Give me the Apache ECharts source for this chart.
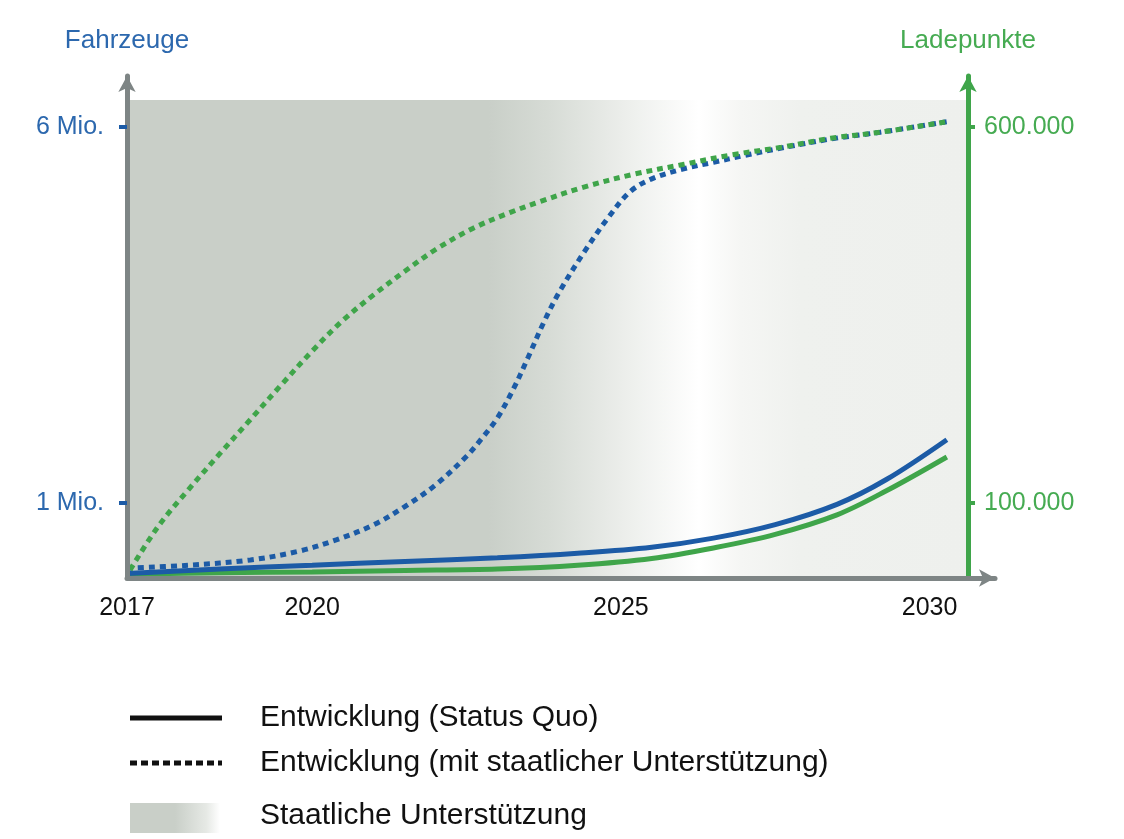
<!DOCTYPE html>
<html>
<head>
<meta charset="utf-8">
<script src="https://cdn.jsdelivr.net/npm/echarts@6/dist/echarts.min.js"></script>
<style>html,body{margin:0;padding:0;background:#fff}#c{width:1124px;height:839px}</style>
</head>
<body>
<div id="c"></div>
<script>
// ---- data ----
const xTickYears = [2017, 2020, 2025, 2030];
const leftTicks = [1, 6];            // Mio. Fahrzeuge
const rightTicks = [100000, 600000]; // Ladepunkte
const titleLeft = 'Fahrzeuge';
const titleRight = 'Ladepunkte';

// Fahrzeuge, Entwicklung mit staatlicher Unterstützung (Mio.)
const vehSupportYears  = [2017.0, 2018.0, 2019.0, 2019.8, 2020.4, 2021.0, 2021.5, 2022.0, 2022.5, 2022.75, 2023.0, 2023.25, 2023.5, 2023.75, 2024.0, 2024.4, 2024.8, 2025.15, 2025.5, 2026.0, 2026.5, 2027.0, 2027.6, 2028.4, 2029.2, 2030.28];
const vehSupportValues = [0.13, 0.17, 0.24, 0.36, 0.51, 0.71, 0.95, 1.24, 1.62, 1.86, 2.13, 2.50, 2.94, 3.40, 3.80, 4.33, 4.80, 5.14, 5.31, 5.44, 5.53, 5.62, 5.72, 5.84, 5.93, 6.07];

// Ladepunkte, Entwicklung mit staatlicher Unterstützung
const chargeSupportYears  = [2017.0, 2017.5, 2018.0, 2018.5, 2019.0, 2019.5, 2020.0, 2020.5, 2021.0, 2021.5, 2022.0, 2022.6, 2023.2, 2023.7, 2024.4, 2025.2, 2026.0, 2026.8, 2027.6, 2028.4, 2029.2, 2030.28];
const chargeSupportValues = [4000, 68000, 118000, 165000, 211000, 257000, 302000, 343000, 377000, 408000, 437000, 465000, 486000, 501000, 520000, 537000, 550000, 563000, 573000, 585000, 593000, 607000];

// Fahrzeuge, Status Quo (Mio.)
const vehQuoYears  = [2017.0, 2018.5, 2020.0, 2021.5, 2023.0, 2024.3, 2025.5, 2026.5, 2027.5, 2028.5, 2029.3, 2030.28];
const vehQuoValues = [0.06, 0.12, 0.17, 0.22, 0.27, 0.33, 0.41, 0.53, 0.71, 0.98, 1.31, 1.84];

// Ladepunkte, Status Quo
const chargeQuoYears  = [2017.0, 2018.5, 2020.0, 2021.5, 2023.0, 2024.3, 2025.5, 2026.5, 2027.5, 2028.5, 2029.3, 2030.28];
const chargeQuoValues = [5000, 7000, 8000, 10000, 12000, 17000, 26000, 40000, 58000, 84000, 116000, 161000];

// Staatliche Unterstützung (shaded period)
const supportStart = 2017;
const supportEnd = 2030.62;

const legendLabels = ['Entwicklung (Status Quo)', 'Entwicklung (mit staatlicher Unterstützung)', 'Staatliche Unterstützung'];

// ---- styles ----
const BLUE = '#1c5ba6';
const GREEN = '#3fa54a';
const BLUE_TXT = '#2c68ae';
const GREEN_TXT = '#46ab52';
const GRAY_AX = '#7e8585';
const FONT = '"Liberation Sans", Arial, sans-serif';

const zip = (a, b) => a.map((v, i) => [v, b[i]]);

const bgGradient = {
  type: 'linear', x: 0, y: 0, x2: 1, y2: 0,
  colorStops: [
    {offset: 0, color: '#c9cfc8'},
    {offset: 0.43, color: '#c9cfc8'},
    {offset: 0.50, color: '#d6dbd5'},
    {offset: 0.60, color: '#eef0ed'},
    {offset: 0.68, color: '#ffffff'},
    {offset: 0.73, color: '#f5f6f4'},
    {offset: 0.80, color: '#eff1ee'},
    {offset: 1, color: '#eef0ed'}
  ]
};

const chart = echarts.init(document.getElementById('c'), null, {renderer: 'canvas'});
chart.setOption({
  animation: false,
  backgroundColor: '#ffffff',
  grid: {left: 127, right: 129, top: 76, bottom: 261, containLabel: false},
  xAxis: {
    type: 'value', min: 2017, max: 2031.06, z: 10,
    axisLine: {show: true, symbol: ['none', 'arrow'], symbolSize: [13, 16], lineStyle: {color: GRAY_AX, width: 5}},
    axisTick: {show: false},
    splitLine: {show: false},
    axisLabel: {customValues: xTickYears, color: '#111', fontSize: 25, fontFamily: FONT, margin: 18, formatter: v => String(Math.round(v))}
  },
  yAxis: [{
    type: 'value', min: 0, max: 6.678, position: 'left', z: 10,
    name: titleLeft, nameLocation: 'end', nameGap: 22,
    nameTextStyle: {color: BLUE_TXT, fontSize: 26, fontFamily: FONT, align: 'center'},
    axisLine: {show: true, symbol: ['none', 'arrow'], symbolSize: [13, 16], lineStyle: {color: GRAY_AX, width: 5}},
    axisTick: {show: true, customValues: leftTicks, length: 8, lineStyle: {color: BLUE, width: 4}},
    splitLine: {show: false},
    axisLabel: {customValues: leftTicks, color: BLUE_TXT, fontSize: 25, fontFamily: FONT, margin: 23, formatter: v => Math.round(v) + ' Mio.'}
  }, {
    type: 'value', min: 0, max: 667800, position: 'right', offset: -27, z: 10,
    name: titleRight, nameLocation: 'end', nameGap: 22,
    nameTextStyle: {color: GREEN_TXT, fontSize: 26, fontFamily: FONT, align: 'center'},
    axisLine: {show: true, symbol: ['none', 'arrow'], symbolSize: [13, 16], lineStyle: {color: GREEN, width: 5}},
    axisTick: {show: true, customValues: rightTicks, length: 7, lineStyle: {color: GREEN, width: 4}},
    splitLine: {show: false},
    axisLabel: {customValues: rightTicks, color: GREEN_TXT, fontSize: 25, fontFamily: FONT, margin: 16,
      formatter: v => String(Math.round(v)).replace(/\B(?=(\d{3})+(?!\d))/g, '.')}
  }],
  series: [
    {
      type: 'line', data: [], z: 1, silent: true,
      markArea: {silent: true, itemStyle: {color: bgGradient},
        data: [[{xAxis: supportStart, yAxis: 0}, {xAxis: supportEnd, yAxis: 6.36}]]}
    },
    {
      type: 'line', yAxisIndex: 1, data: zip(chargeQuoYears, chargeQuoValues), smooth: 0.35,
      showSymbol: false, z: 3, lineStyle: {color: GREEN, width: 5}
    },
    {
      type: 'line', yAxisIndex: 0, data: zip(vehQuoYears, vehQuoValues), smooth: 0.35,
      showSymbol: false, z: 3, lineStyle: {color: BLUE, width: 5}
    },
    {
      type: 'line', yAxisIndex: 0, data: zip(vehSupportYears, vehSupportValues), smooth: 0.35,
      showSymbol: false, z: 4, lineStyle: {color: BLUE, width: 5, type: [6, 5], cap: 'butt'}
    },
    {
      type: 'line', yAxisIndex: 1, data: zip(chargeSupportYears, chargeSupportValues), smooth: 0.35,
      showSymbol: false, z: 5, lineStyle: {color: GREEN, width: 5, type: [6, 5], cap: 'butt', dashOffset: 5}
    }
  ],
  graphic: [
    {type: 'line', shape: {x1: 130, y1: 718, x2: 222, y2: 718}, style: {stroke: '#111', lineWidth: 5}},
    {type: 'text', x: 260, y: 718, style: {text: legendLabels[0], fill: '#111', font: '30px ' + FONT, verticalAlign: 'middle'}},
    {type: 'line', shape: {x1: 130, y1: 763, x2: 222, y2: 763}, style: {stroke: '#111', lineWidth: 5, lineDash: [7, 4]}},
    {type: 'text', x: 260, y: 763, style: {text: legendLabels[1], fill: '#111', font: '30px ' + FONT, verticalAlign: 'middle'}},
    {type: 'rect', shape: {x: 130, y: 803, width: 90, height: 30},
      style: {fill: {type: 'linear', x: 0, y: 0, x2: 1, y2: 0, colorStops: [
        {offset: 0, color: '#c9cfc8'}, {offset: 0.5, color: '#c9cfc8'}, {offset: 0.85, color: '#e6e9e5'}, {offset: 1, color: '#ffffff'}]}}},
    {type: 'text', x: 260, y: 816, style: {text: legendLabels[2], fill: '#111', font: '30px ' + FONT, verticalAlign: 'middle'}}
  ]
});
</script>
</body>
</html>
